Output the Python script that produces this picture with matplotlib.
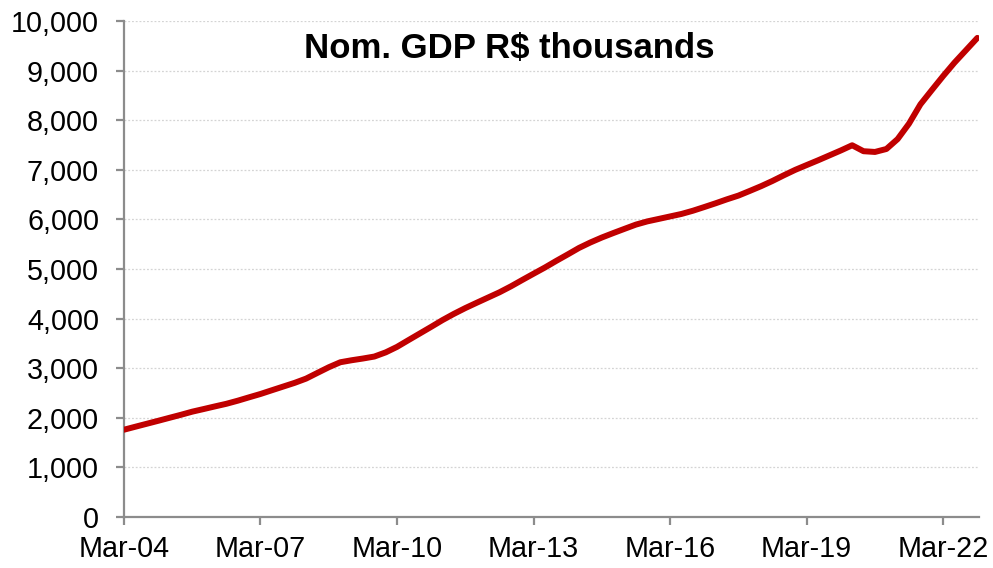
import matplotlib
matplotlib.use("Agg")
import matplotlib.pyplot as plt
import matplotlib.dates as mdates
import pandas as pd

# Quarterly nominal GDP (R$ thousands), Mar-2004 .. Dec-2022
quarters = pd.date_range("2004-03-31", periods=76, freq="QE")
gdp = [
    1760, 1820, 1880, 1940, 2000, 2060, 2124, 2177, 2230, 2282, 2345, 2414,
    2480, 2555, 2630, 2705, 2790, 2905, 3020, 3120, 3160, 3195, 3235, 3320,
    3430, 3565, 3700, 3835, 3970, 4095, 4212, 4320, 4425, 4530, 4650, 4780,
    4905, 5030, 5165, 5295, 5425, 5535, 5635, 5725, 5810, 5895, 5960, 6010,
    6060, 6110, 6175, 6250, 6325, 6405, 6480, 6575, 6670, 6775, 6890, 7000,
    7095, 7190, 7290, 7390, 7495, 7375, 7360, 7420, 7620, 7930, 8320, 8610,
    8890, 9160, 9410, 9660,
]
title = "Nom. GDP R$ thousands"
y_ticks = list(range(0, 10001, 1000))
x_tick_dates = quarters[::12]

plt.rcParams["font.family"] = ["Liberation Sans", "DejaVu Sans"]

fig = plt.figure(figsize=(9.93, 5.68), dpi=100)
ax = fig.add_axes([0.1249, 0.0898, 0.8610, 0.8732])

ax.plot(quarters, gdp, color="#C00000", linewidth=4.3,
        solid_capstyle="round", solid_joinstyle="round", zorder=3)

ax.set_ylim(0, 10000)
ax.set_yticks(y_ticks)
ax.yaxis.set_major_formatter(matplotlib.ticker.FuncFormatter(lambda v, p: f"{int(v):,}"))
ax.set_xlim(quarters[0], pd.Timestamp("2023-01-13"))
ax.set_xticks(x_tick_dates)
ax.xaxis.set_major_formatter(mdates.DateFormatter("%b-%y"))

ax.grid(axis="y", color="#d4d4d4", linestyle=(0, (1.5, 1.5)), linewidth=0.9)
ax.set_axisbelow(True)

for side in ("top", "right"):
    ax.spines[side].set_visible(False)
for side in ("left", "bottom"):
    ax.spines[side].set_color("#8c8c8c")
    ax.spines[side].set_linewidth(1.6)

ax.tick_params(axis="both", direction="out", length=6, width=1.6,
               color="#8c8c8c", labelsize=20.7, labelcolor="black")
ax.tick_params(axis="y", pad=12)
ax.tick_params(axis="x", pad=7)

ax.text(0.451, 0.944, title, transform=ax.transAxes, ha="center", va="center",
        fontsize=25, fontweight="bold", color="black")

fig.savefig("out.png", dpi=100)
